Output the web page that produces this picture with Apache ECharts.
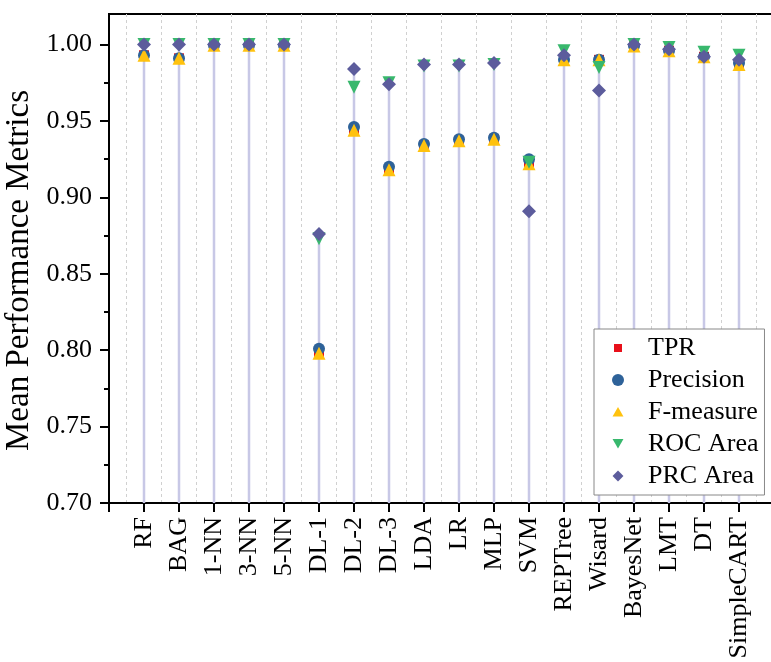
<!DOCTYPE html>
<html>
<head>
<meta charset="utf-8">
<script src="https://cdn.jsdelivr.net/npm/echarts@6/dist/echarts.min.js"></script>
<style>html,body{margin:0;padding:0;background:#fff}#c{width:771px;height:662px}</style>
</head>
<body>
<div id="c"></div>
<script>
const categories = ['RF','BAG','1-NN','3-NN','5-NN','DL-1','DL-2','DL-3','LDA','LR','MLP','SVM','REPTree','Wisard','BayesNet','LMT','DT','SimpleCART'];
const TPR       = [0.993,0.991,0.9995,0.9995,0.9995,0.798,0.944,0.918,0.934,0.937,0.938,0.923,0.990,0.990,0.999,0.996,0.992,0.988];
const Precision = [0.993,0.991,0.9995,0.9995,0.9995,0.801,0.946,0.920,0.935,0.938,0.939,0.925,0.990,0.990,0.999,0.996,0.992,0.988];
const Fmeasure  = [0.993,0.991,0.9995,0.9995,0.9995,0.798,0.944,0.918,0.934,0.937,0.938,0.922,0.990,0.990,0.999,0.996,0.992,0.987];
const ROC       = [1.000,1.000,1.000,1.000,1.000,0.873,0.972,0.975,0.986,0.986,0.987,0.923,0.996,0.985,1.000,0.998,0.995,0.993];
const PRC       = [1.000,1.000,1.000,1.000,1.000,0.876,0.984,0.974,0.987,0.987,0.988,0.891,0.993,0.970,1.000,0.997,0.992,0.990];
const yTicks = [0.70,0.75,0.80,0.85,0.90,0.95,1.00];
const yMinorTicks = [0.725,0.775,0.825,0.875,0.925,0.975];

const FONT = "'Liberation Serif','Times New Roman',serif";
const DOWN_TRI = 'path://M0,0L10,0L5,8.66Z';
const ICON_RECT = 'path://M-2.5,-2.5M12.5,12.5M0,0L10,0L10,10L0,10Z';
const ICON_CIRCLE = 'circle';
const ICON_TRI = 'path://M-0.5,-1M10.5,10M5,0L10,8.66L0,8.66Z';
const ICON_DOWN = 'path://M-0.5,-1M10.5,10M0,0L10,0L5,8.66Z';
const ICON_DIAMOND = 'path://M-0.5,-0.5M10.5,10.5M5,0L10,5L5,10L0,5Z';
const toPts = arr => arr.map((v,i)=>[i+1, v]);
const stems = categories.map((c,i)=>[i+1, Math.max(TPR[i],Precision[i],Fmeasure[i],ROC[i],PRC[i])]);

const chart = echarts.init(document.getElementById('c'), null, {renderer:'canvas'});
chart.setOption({
  animation:false,
  backgroundColor:'#fff',
  textStyle:{fontFamily:FONT},
  grid:{left:109, top:14, right:-3, bottom:159, outerBoundsMode:'none', containLabel:false,
    show:true, borderColor:'#000', borderWidth:2, backgroundColor:'transparent'},
  legend:{
    orient:'vertical', left:594, top:329,
    data:[
      {name:'TPR', icon:ICON_RECT},
      {name:'Precision', icon:ICON_CIRCLE},
      {name:'F-measure', icon:ICON_TRI},
      {name:'ROC Area', icon:ICON_DOWN},
      {name:'PRC Area', icon:ICON_DIAMOND}
    ],
    symbolKeepAspect:true,
    itemWidth:50, itemHeight:12, itemGap:6,
    padding:[6,6,6,18],
    borderColor:'#888', borderWidth:1, backgroundColor:'#fff',
    textStyle:{fontSize:26, color:'#000', fontFamily:FONT}
  },
  xAxis:{
    type:'value', min:0, max:19, interval:1,
    axisLine:{show:true, lineStyle:{color:'#000', width:2}},
    axisTick:{show:true, length:9, lineStyle:{color:'#000', width:2}},
    axisLabel:{rotate:90, margin:14, fontSize:26, color:'#000', fontFamily:FONT,
      formatter:v => categories[v-1] || ''},
    splitLine:{show:false},
    minorTick:{show:false, splitNumber:2},
    minorSplitLine:{show:true, lineStyle:{color:'#d0d0d0', type:[3,3], width:1}}
  },
  yAxis:[{
    type:'value', min:0.70, max:1.02, position:'left',
    name:'Mean Performance Metrics', nameLocation:'middle', nameGap:72,
    nameTextStyle:{fontSize:33, color:'#000', fontFamily:FONT, padding:[0,24,0,0]},
    axisLine:{show:true, lineStyle:{color:'#000', width:2}},
    axisTick:{show:true, length:9, customValues:yTicks, lineStyle:{color:'#000', width:2}},
    axisLabel:{customValues:yTicks, margin:17, fontSize:26, color:'#000', fontFamily:FONT,
      formatter:v => v.toFixed(2)},
    splitLine:{show:false}
  },{
    type:'value', min:0.70, max:1.02, position:'left',
    axisLine:{show:false},
    axisTick:{show:true, length:5, customValues:yMinorTicks, lineStyle:{color:'#000', width:2}},
    axisLabel:{show:false},
    splitLine:{show:false}
  }],
  series:[
    {type:'custom', name:'stems', z:1, silent:true, data:stems,
      renderItem:(params, api) => {
        const x = api.value(0), top = api.value(1);
        const p1 = api.coord([x, 0.70]);
        const p2 = api.coord([x, top]);
        return {type:'line', shape:{x1:p1[0], y1:p1[1], x2:p2[0], y2:p2[1]},
          style:{stroke:'#c8c8e6', lineWidth:2.5}};
      }},
    {type:'scatter', name:'TPR', z:2, data:toPts(TPR), symbol:'rect', symbolSize:10, itemStyle:{color:'#e8101a', opacity:1}},
    {type:'scatter', name:'Precision', z:3, data:toPts(Precision), symbol:'circle', symbolSize:12, itemStyle:{color:'#2e6299', opacity:1}},
    {type:'scatter', name:'F-measure', z:4, data:toPts(Fmeasure), symbol:'triangle', symbolSize:13, itemStyle:{color:'#ffc20e', opacity:1}},
    {type:'scatter', name:'ROC Area', z:5, data:toPts(ROC), symbol:DOWN_TRI, symbolSize:13, itemStyle:{color:'#38b86d', opacity:1}},
    {type:'scatter', name:'PRC Area', z:6, data:toPts(PRC), symbol:'diamond', symbolSize:14, itemStyle:{color:'#5c5c9c', opacity:1}}
  ]
});
</script>
</body>
</html>
